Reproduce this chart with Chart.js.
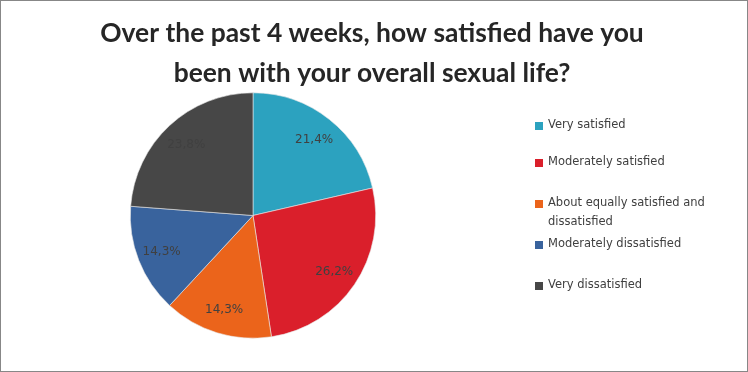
<!DOCTYPE html>
<html><head><meta charset="utf-8">
<script src="https://cdn.jsdelivr.net/npm/chart.js@4"></script>
<style>
html,body{margin:0;padding:0;background:#fff;}
#wrap{position:relative;width:746px;height:370px;border:1px solid #878787;}
canvas{position:absolute;left:-1px;top:-1px;}
</style></head>
<body><div id="wrap"><canvas id="c" width="748" height="372"></canvas></div>
<script>
const titleLines = ["Over the past 4 weeks, how satisfied have you", "been with your overall sexual life?"];
const categories = ["Very satisfied", "Moderately satisfied", "About equally satisfied and dissatisfied", "Moderately dissatisfied", "Very dissatisfied"];
const legendLines = [["Very satisfied"], ["Moderately satisfied"], ["About equally satisfied and", "dissatisfied"], ["Moderately dissatisfied"], ["Very dissatisfied"]];
const values = [21.4, 26.2, 14.3, 14.3, 23.8];
const valueLabels = ["21,4%", "26,2%", "14,3%", "14,3%", "23,8%"];
const colors = ["#2CA2BF", "#DA1F2B", "#EB641B", "#39639D", "#474747"];

const overlay = {
  id: 'overlay',
  afterDraw(chart) {
    const ctx = chart.ctx;
    ctx.save();
    // title
    ctx.fillStyle = '#262626';
    ctx.font = 'bold 26.4px Lato, "Open Sans", sans-serif';
    ctx.textAlign = 'center';
    ctx.textBaseline = 'alphabetic';
    ctx.fillText(titleLines[0], 372, 42);
    ctx.fillText(titleLines[1], 372, 82);
    // data labels
    const meta = chart.getDatasetMeta(0);
    ctx.font = '12px "DejaVu Sans", Verdana, sans-serif';
    ctx.fillStyle = '#404040';
    ctx.textBaseline = 'middle';
    meta.data.forEach((arc, i) => {
      const p = arc.getProps(['x','y','startAngle','endAngle','outerRadius'], true);
      const a = (p.startAngle + p.endAngle) / 2;
      const r = p.outerRadius * 0.8;
      ctx.fillText(valueLabels[i], p.x + Math.cos(a) * r, p.y + Math.sin(a) * r + 1);
    });
    // legend
    const rows = [125, 162, 203, 244, 285];
    ctx.textAlign = 'left';
    ctx.font = '11.5px "DejaVu Sans", Verdana, sans-serif';
    legendLines.forEach((lines, i) => {
      ctx.fillStyle = colors[i];
      ctx.fillRect(535, rows[i] - 3, 8, 8);
      ctx.fillStyle = '#404040';
      lines.forEach((t, j) => ctx.fillText(t, 548, rows[i] + j * 19));
    });
    ctx.restore();
  }
};

new Chart(document.getElementById('c'), {
  type: 'pie',
  data: {
    labels: categories,
    datasets: [{ data: values, backgroundColor: colors, borderColor: '#e8e8e8', borderWidth: 0.6 }]
  },
  options: {
    responsive: false,
    animation: false,
    layout: { padding: { left: 130, right: 372, top: 92, bottom: 33 } },
    plugins: { legend: { display: false }, title: { display: false }, tooltip: { enabled: false } }
  },
  plugins: [overlay]
});
</script></body></html>
